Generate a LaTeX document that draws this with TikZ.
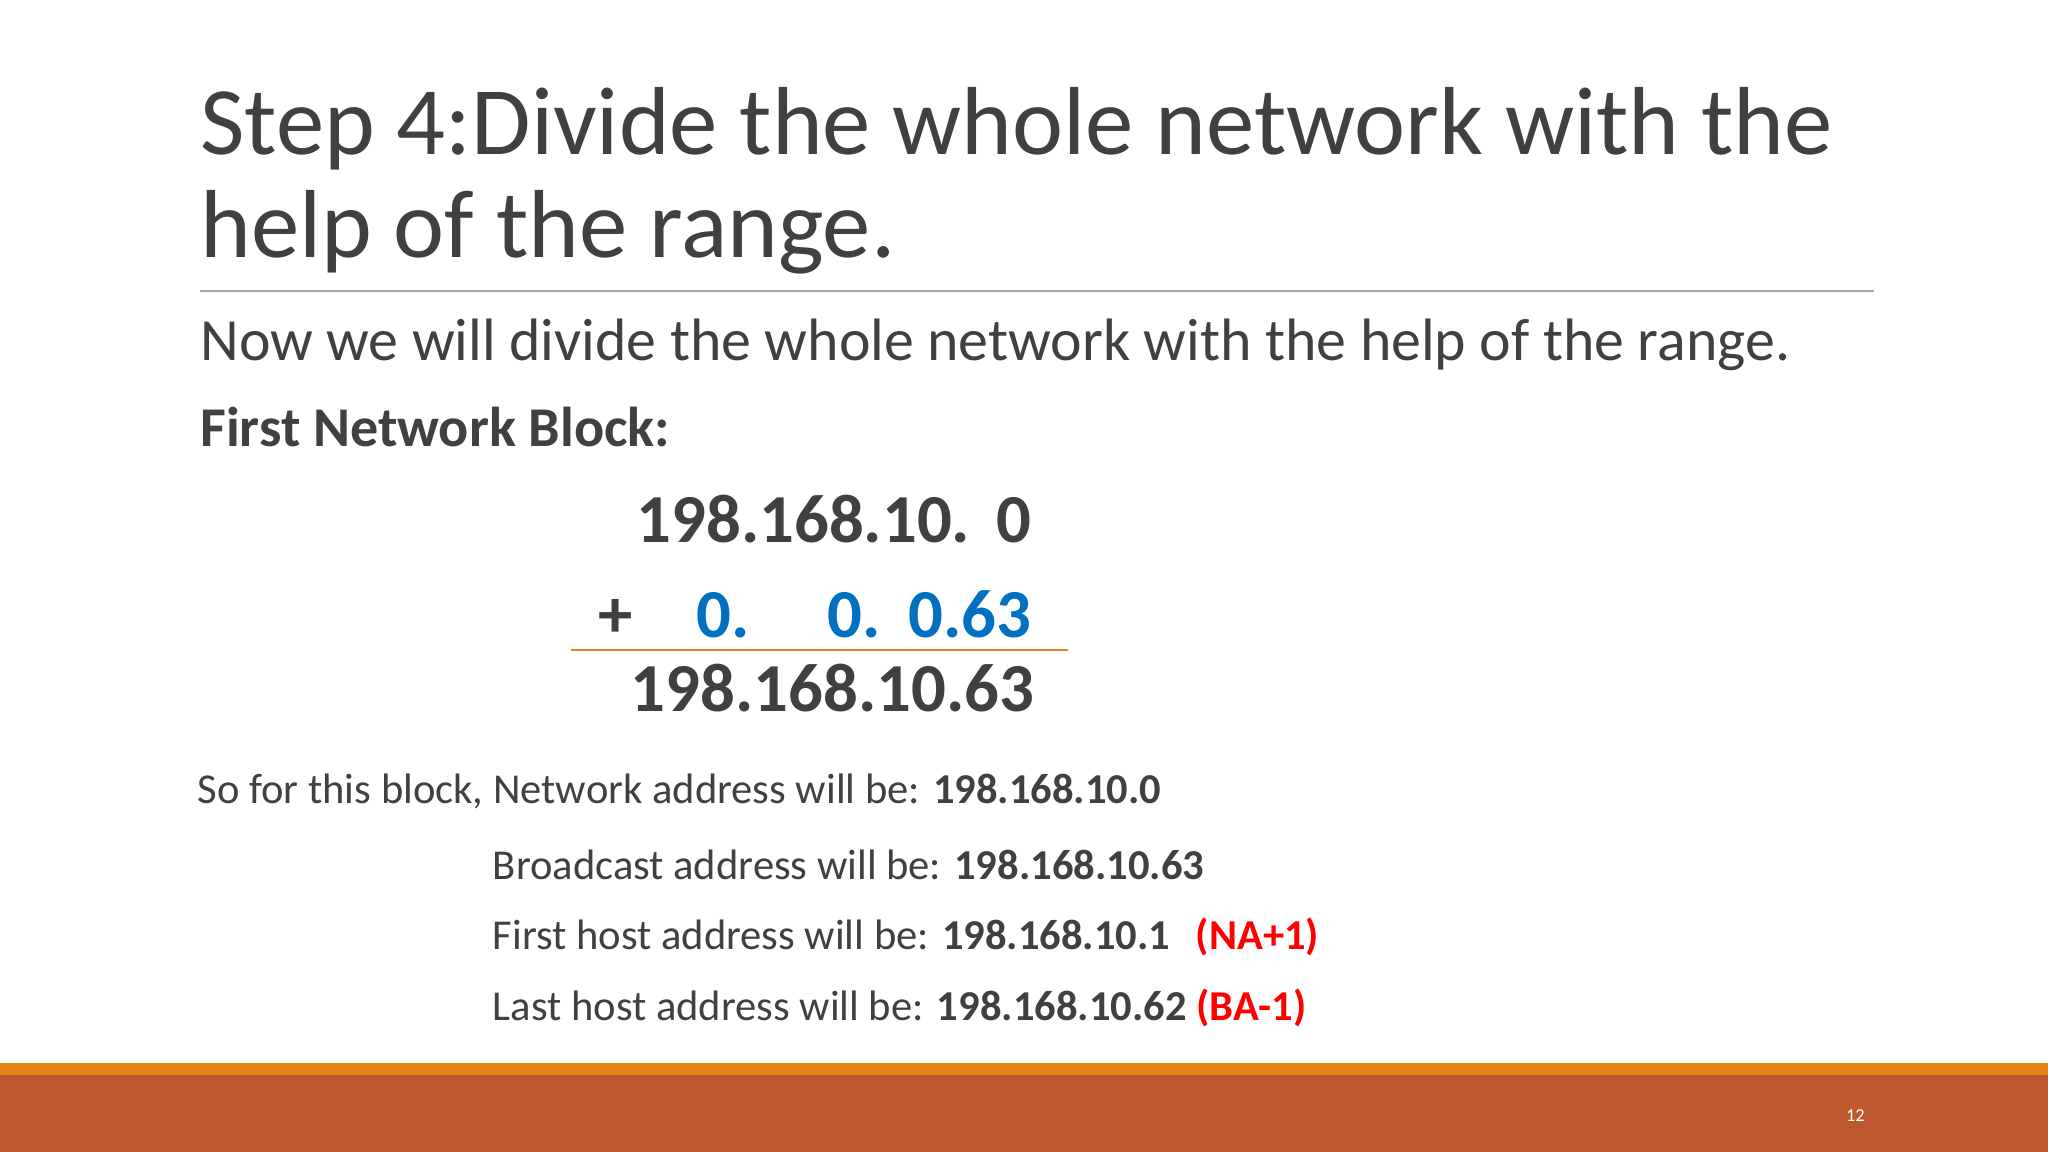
\documentclass[tikz,border=0pt]{standalone}
\usepackage{fontspec}
\setmainfont{Carlito}
\begin{document}
\begin{tikzpicture}[x=0.5pt,y=-0.5pt,
  txt/.style={inner sep=0pt,anchor=base west,text=dark},
  big/.style={txt,font=\fontsize{26.3}{30}\selectfont\bfseries},
  sm/.style={txt,font=\fontsize{16.3}{19}\selectfont}]
\definecolor{dark}{HTML}{404040}
\definecolor{blu}{HTML}{0070C0}
\definecolor{ora}{HTML}{E0861A}
\definecolor{rust}{HTML}{BC582C}
\useasboundingbox (0,0) rectangle (1568,882);
\fill[white] (0,0) rectangle (1568,882);
\fill[ora] (0,814) rectangle (1568,823);
\fill[rust] (0,823) rectangle (1568,882);
\node[txt,text=white,font=\fontsize{7}{8}\selectfont] (pg) at (1413,859) {12};
\node[txt,font=\fontsize{37}{42}\selectfont] (t1) at (153,118) {Step 4:Divide the whole network with the};
\node[txt,font=\fontsize{37}{42}\selectfont] (t2) at (153,197) {help of the range.};
\draw[gray!70,line width=0.6pt] (153,223) -- (1435,223);
\node[txt,font=\fontsize{22.9}{26}\selectfont] (now) at (153,276) {Now we will divide the whole network with the help of the range.};
\node[txt,font=\fontsize{21.5}{26}\selectfont\bfseries] (fnb) at (153,342) {First Network Block:};
\node[big] (r1a) at (487,415) {198.168.10.};
\node[big,anchor=base east] (r1b) at (790,415) {0};
\node[big] (plus) at (458,488) {+};
\node[big,text=blu] (b1) at (533,488) {0.};
\node[big,text=blu] (b2) at (633,488) {0.};
\node[big,text=blu,anchor=base east] (b3) at (790,488) {0.63};
\draw[ora,line width=0.8pt] (437,498) -- (818,498);
\node[big,anchor=base east] (r3) at (792,545) {198.168.10.63};
\node[sm] (l1) at (151,615) {So for this block, Network address will be: \textbf{198.168.10.0}};
\node[sm] (l2) at (377,673) {Broadcast address will be: \textbf{198.168.10.63}};
\node[sm] (l3) at (377,727) {First host address will be: \textbf{198.168.10.1}\hspace{0.6em}\textcolor{red}{\textbf{(NA+1)}}};
\node[sm] (l4) at (377,781) {Last host address will be: \textbf{198.168.10.62} \textcolor{red}{\textbf{(BA-1)}}};
\end{tikzpicture}
\end{document}
